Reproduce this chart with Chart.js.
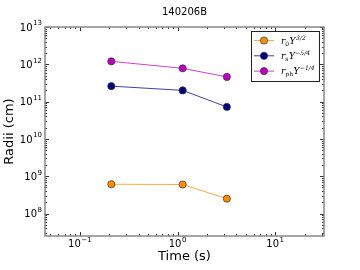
<!DOCTYPE html>
<html>
<head>
<meta charset="utf-8">
<script src="https://cdn.jsdelivr.net/npm/chart.js@4"></script>
<style>
  html, body { margin: 0; padding: 0; background: #fff; }
  #wrap { width: 360px; height: 270px; }
</style>
</head>
<body>
<div id="wrap"><canvas id="grafikRadii" width="360" height="270"></canvas></div>
<script>
// data
const times = [0.21, 1.13, 3.2];
const radiiR0 = [6.1e8, 6.0e8, 2.5e8];
const radiiRs = [2.6e11, 2.0e11, 7.2e10];
const radiiRph = [1.2e12, 7.8e11, 4.6e11];
const xTicks = [0.1, 1, 10];
const yTicks = [1e8, 1e9, 1e10, 1e11, 1e12, 1e13];
const judul = '140206B';
const judulX = 'Time (s)';
const judulY = 'Radii (cm)';
const seriesNames = [['r', '0', 'Y', '3/2'], ['r', 's', 'Y', '\u22125/4'], ['r', 'ph', 'Y', '\u22121/4']];

function pts(ys) {
  return ys.map((y, i) => ({ x: times[i], y: y }));
}

const warna = ['#ff8c00', '#000080', '#bf00bf'];
const warnaGaris = ['rgba(255,140,0,0.75)', 'rgba(0,0,128,0.75)', 'rgba(191,0,191,0.75)'];

// "10" plus raised exponent; align 'center' or 'right'; cy = centre of the "10"
function drawPow(ctx, v, x, cy, align) {
  const e = String(Math.round(Math.log10(v))).replace('-', '\u2212');
  ctx.textBaseline = 'middle';
  ctx.textAlign = 'left';
  ctx.font = '10px "DejaVu Sans"';
  const w1 = ctx.measureText('10').width;
  ctx.font = '7px "DejaVu Sans"';
  const w2 = ctx.measureText(e).width;
  const total = w1 + w2 + 0.5;
  let x0 = align === 'right' ? x - total : x - total / 2;
  ctx.font = '10px "DejaVu Sans"';
  ctx.fillText('10', x0, cy);
  ctx.font = '7px "DejaVu Sans"';
  ctx.fillText(e, x0 + w1 + 0.5, cy - 4.5);
}

// frame, inward ticks on all sides, tick labels, titles and legend
const framePlugin = {
  id: 'frame',
  afterDraw(chart) {
    const ctx = chart.ctx;
    const a = chart.chartArea;
    const xs = chart.scales.x, ys = chart.scales.y;
    ctx.save();
    ctx.strokeStyle = '#333';
    ctx.lineWidth = 1;
    function tickSet(min, max) {
      const out = [];
      for (let e = Math.floor(Math.log10(min)); e <= Math.ceil(Math.log10(max)); e++) {
        for (let m = 1; m < 10; m++) {
          const v = m * Math.pow(10, e);
          if (v >= min && v <= max) out.push({ v: v, major: m === 1 });
        }
      }
      return out;
    }
    ctx.beginPath();
    tickSet(xs.min, xs.max).forEach(t => {
      const px = Math.round(xs.getPixelForValue(t.v)) + 0.5;
      const len = t.major ? 4 : 2;
      ctx.moveTo(px, a.bottom); ctx.lineTo(px, a.bottom - len);
      ctx.moveTo(px, a.top); ctx.lineTo(px, a.top + len);
    });
    tickSet(ys.min, ys.max).forEach(t => {
      const py = Math.round(ys.getPixelForValue(t.v)) + 0.5;
      const len = t.major ? 4 : 2;
      ctx.moveTo(a.left, py); ctx.lineTo(a.left + len, py);
      ctx.moveTo(a.right, py); ctx.lineTo(a.right - len, py);
    });
    ctx.stroke();
    ctx.strokeStyle = '#888';
    ctx.lineWidth = 1.5;
    ctx.strokeRect(a.left, a.top, a.right - a.left, a.bottom - a.top);

    // tick labels
    ctx.fillStyle = '#000';
    xTicks.forEach(v => drawPow(ctx, v, xs.getPixelForValue(v), a.bottom + 8.5, 'center'));
    yTicks.forEach(v => drawPow(ctx, v, a.left - 3, ys.getPixelForValue(v) + 1, 'right'));

    // titles
    ctx.textAlign = 'center';
    ctx.textBaseline = 'middle';
    ctx.font = '10px "DejaVu Sans"';
    ctx.fillText(judul, (a.left + a.right) / 2, 12);
    ctx.font = '13px "DejaVu Sans"';
    ctx.fillText(judulX, (a.left + a.right) / 2, 257);
    ctx.save();
    ctx.translate(10, (a.top + a.bottom) / 2);
    ctx.rotate(-Math.PI / 2);
    ctx.fillText(judulY, 0, 0);
    ctx.restore();

    // legend
    const lx = 251, ly = 31, lw = 68, lh = 50;
    ctx.fillStyle = '#fff';
    ctx.fillRect(lx, ly, lw, lh);
    ctx.strokeStyle = '#222';
    ctx.lineWidth = 1;
    ctx.strokeRect(lx + 0.5, ly + 0.5, lw, lh);
    seriesNames.forEach((n, i) => {
      const cy = 40.5 + i * 15.3;
      ctx.strokeStyle = warnaGaris[i];
      ctx.lineWidth = 1;
      ctx.beginPath(); ctx.moveTo(254, cy); ctx.lineTo(274, cy); ctx.stroke();
      ctx.beginPath(); ctx.arc(264, cy, 3.6, 0, Math.PI * 2);
      ctx.fillStyle = warna[i]; ctx.fill();
      ctx.strokeStyle = '#333'; ctx.lineWidth = 0.7; ctx.stroke();
      ctx.fillStyle = '#000';
      ctx.textBaseline = 'alphabetic';
      ctx.textAlign = 'left';
      let x = 281;
      const base = cy + 3;
      ctx.font = 'italic 9px "DejaVu Serif"';
      ctx.fillText(n[0], x, base); x += ctx.measureText(n[0]).width;
      ctx.font = '6px "DejaVu Serif"';
      ctx.fillText(n[1], x, base + 2); x += ctx.measureText(n[1]).width + 0.5;
      ctx.font = 'italic 9px "DejaVu Serif"';
      ctx.fillText(n[2], x, base); x += ctx.measureText(n[2]).width + 0.5;
      ctx.font = 'italic 6px "DejaVu Serif"';
      ctx.fillText(n[3], x, base - 4);
    });
    ctx.restore();
  }
};

const ctxRadii = document.getElementById('grafikRadii');
let grafikRadii = new Chart(ctxRadii, {
  type: 'line',
  data: {
    datasets: [radiiR0, radiiRs, radiiRph].map((d, i) => ({
      data: pts(d),
      borderColor: warnaGaris[i],
      borderWidth: 1,
      backgroundColor: warna[i],
      pointBackgroundColor: warna[i],
      pointBorderColor: '#333',
      pointBorderWidth: 0.7,
      pointRadius: 3.6,
      fill: false,
      tension: 0
    }))
  },
  options: {
    responsive: false,
    animation: false,
    layout: { padding: { top: 27, right: 36, left: 45, bottom: 34 } },
    plugins: {
      legend: { display: false },
      tooltip: { enabled: false },
      title: { display: false }
    },
    scales: {
      x: {
        type: 'logarithmic',
        min: 0.044,
        max: 31.6,
        grid: { display: false },
        border: { display: false },
        ticks: { display: false },
        afterFit(s) { s.height = 0; }
      },
      y: {
        type: 'logarithmic',
        min: 2.5e7,
        max: 1e13,
        grid: { display: false },
        border: { display: false },
        ticks: { display: false },
        afterFit(s) { s.width = 0; }
      }
    }
  },
  plugins: [framePlugin]
});
</script>
</body>
</html>
